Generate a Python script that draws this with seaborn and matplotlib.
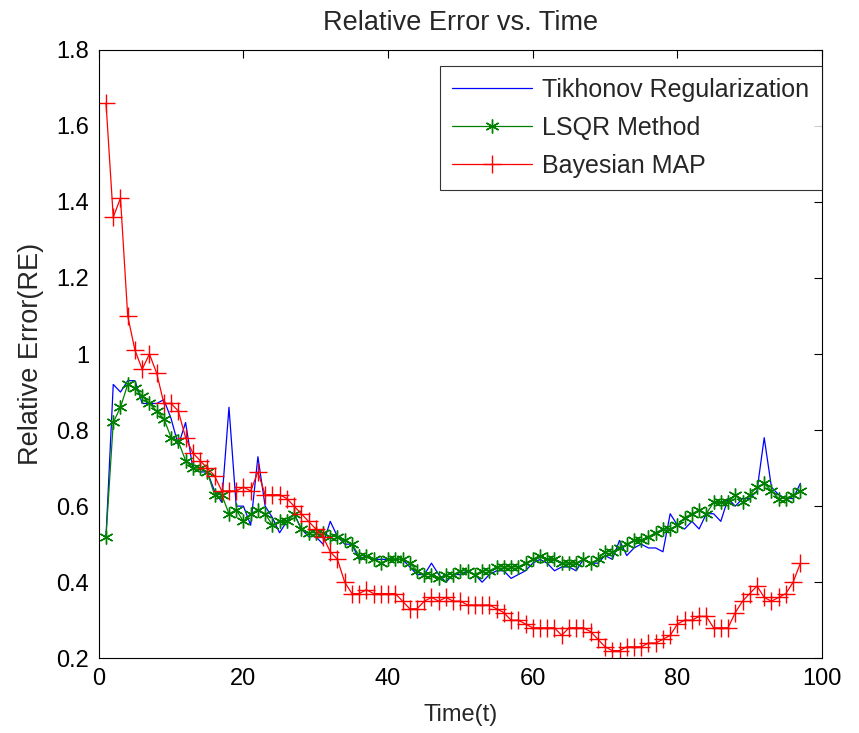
import numpy as np
import pandas as pd
import matplotlib
matplotlib.use("Agg")
import matplotlib.pyplot as plt
import seaborn as sns

time = list(range(1, 98))

tikhonov = [0.52, 0.92, 0.90, 0.93, 0.93, 0.87, 0.87, 0.87, 0.88, 0.83,
            0.76, 0.82, 0.70, 0.69, 0.69, 0.64, 0.61, 0.86, 0.60, 0.60,
            0.55, 0.73, 0.60, 0.57, 0.53, 0.56, 0.58, 0.54, 0.52, 0.52,
            0.50, 0.56, 0.52, 0.50, 0.50, 0.46, 0.47, 0.46, 0.46, 0.46,
            0.46, 0.46, 0.44, 0.42, 0.42, 0.45, 0.42, 0.40, 0.42, 0.42,
            0.43, 0.42, 0.40, 0.42, 0.43, 0.43, 0.41, 0.42, 0.43, 0.45,
            0.46, 0.45, 0.43, 0.44, 0.44, 0.43, 0.46, 0.45, 0.45, 0.47,
            0.46, 0.51, 0.47, 0.49, 0.50, 0.49, 0.49, 0.48, 0.58, 0.55,
            0.54, 0.56, 0.54, 0.58, 0.58, 0.56, 0.62, 0.60, 0.62, 0.62,
            0.64, 0.78, 0.65, 0.63, 0.62, 0.62, 0.66]

lsqr = [0.52, 0.82, 0.86, 0.92, 0.91, 0.89, 0.87, 0.85, 0.83, 0.78,
        0.77, 0.72, 0.70, 0.70, 0.69, 0.63, 0.63, 0.58, 0.59, 0.56,
        0.58, 0.59, 0.58, 0.55, 0.56, 0.56, 0.58, 0.54, 0.53, 0.53,
        0.53, 0.52, 0.52, 0.51, 0.50, 0.47, 0.47, 0.46, 0.45, 0.46,
        0.46, 0.46, 0.45, 0.43, 0.42, 0.42, 0.41, 0.42, 0.42, 0.43,
        0.43, 0.42, 0.43, 0.43, 0.44, 0.44, 0.44, 0.44, 0.45, 0.46,
        0.47, 0.46, 0.46, 0.45, 0.45, 0.45, 0.46, 0.45, 0.46, 0.48,
        0.48, 0.49, 0.50, 0.51, 0.51, 0.52, 0.53, 0.54, 0.54, 0.55,
        0.57, 0.58, 0.59, 0.58, 0.61, 0.61, 0.61, 0.63, 0.61, 0.63,
        0.65, 0.66, 0.64, 0.62, 0.62, 0.63, 0.64]

bayesian = [1.66, 1.36, 1.41, 1.10, 1.01, 0.96, 1.00, 0.95, 0.87, 0.87,
            0.85, 0.78, 0.74, 0.72, 0.70, 0.68, 0.64, 0.64, 0.64, 0.65,
            0.64, 0.69, 0.63, 0.63, 0.63, 0.62, 0.60, 0.58, 0.56, 0.54,
            0.52, 0.48, 0.46, 0.40, 0.37, 0.37, 0.38, 0.37, 0.37, 0.37,
            0.37, 0.35, 0.33, 0.33, 0.35, 0.36, 0.35, 0.36, 0.35, 0.35,
            0.34, 0.34, 0.34, 0.34, 0.33, 0.32, 0.30, 0.30, 0.29, 0.28,
            0.28, 0.28, 0.28, 0.26, 0.28, 0.28, 0.28, 0.27, 0.25, 0.23,
            0.22, 0.22, 0.23, 0.23, 0.23, 0.24, 0.24, 0.25, 0.26, 0.29,
            0.30, 0.30, 0.31, 0.31, 0.28, 0.28, 0.28, 0.32, 0.35, 0.37,
            0.39, 0.36, 0.35, 0.36, 0.37, 0.40, 0.45]

labels = ["Tikhonov Regularization", "LSQR Method", "Bayesian MAP"]
title = "Relative Error vs. Time"
xlabel = "Time(t)"
ylabel = "Relative Error(RE)"
xticks = [0, 20, 40, 60, 80, 100]
yticks = [0.2, 0.4, 0.6, 0.8, 1.0, 1.2, 1.4, 1.6, 1.8]
ytick_labels = ["0.2", "0.4", "0.6", "0.8", "1", "1.2", "1.4", "1.6", "1.8"]

sns.set_style("white")
plt.rcParams['font.family'] = ['Liberation Sans', 'DejaVu Sans']

fig = plt.figure(figsize=(8.59, 7.33), dpi=100)
ax = fig.add_axes([0.115, 0.102, 0.842, 0.83])

df = pd.DataFrame({"t": time, "tik": tikhonov, "lsqr": lsqr, "bay": bayesian})

sns.lineplot(data=df, x="t", y="tik", ax=ax, color=(0, 0, 1), lw=0.9,
             label=labels[0])
sns.lineplot(data=df, x="t", y="lsqr", ax=ax, color=(0, 0.5, 0), lw=0.9,
             marker=(6, 2, 0), markersize=10, markeredgewidth=1.0,
             markeredgecolor=(0, 0.5, 0), label=labels[1])
sns.lineplot(data=df, x="t", y="bay", ax=ax, color=(1, 0, 0), lw=0.9,
             marker="+", markersize=13, markeredgewidth=1.0,
             markeredgecolor=(1, 0, 0), label=labels[2])

ax.set_xlim(0, 100)
ax.set_ylim(0.2, 1.8)
ax.set_xticks(xticks)
ax.set_yticks(yticks)
ax.set_yticklabels(ytick_labels)
ax.tick_params(direction="in", length=6, width=0.8, top=True, right=True,
               labelsize=17, colors="black", pad=7)
for s in ax.spines.values():
    s.set_color("black")
    s.set_linewidth(0.8)
    s.set_visible(True)

ax.set_title(title, fontsize=19.5, pad=14)
ax.set_xlabel(xlabel, fontsize=17, labelpad=10)
ax.set_ylabel(ylabel, fontsize=19.5, labelpad=9)

leg = ax.legend(loc="upper right", bbox_to_anchor=(1.0, 0.974),
                borderaxespad=0, fontsize=18, handlelength=3.2, numpoints=1,
                frameon=True, fancybox=False, edgecolor="black",
                labelspacing=0.55, handletextpad=0.4, borderpad=0.5)
leg.get_frame().set_linewidth(0.8)

fig.savefig("out.png", dpi=100, facecolor="white")
